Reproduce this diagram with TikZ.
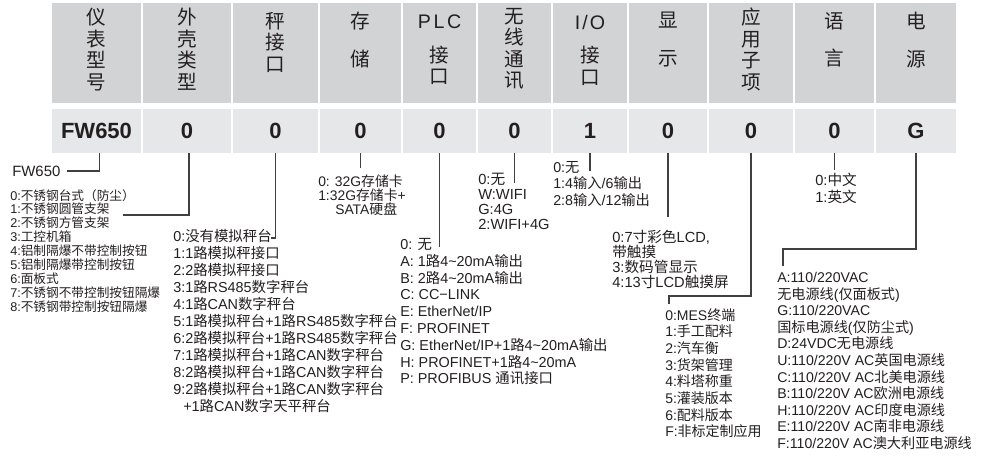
\documentclass[tikz,border=0pt]{standalone}
\usepackage{fontspec}
\setmainfont{Liberation Sans}
\newfontfamily\cjkfont{Noto Sans CJK SC}
\newfontfamily\latfont{Liberation Sans}
% switch to the CJK font for Chinese characters
\XeTeXinterchartokenstate=1
\newXeTeXintercharclass\cjkclass
\newcount\charidx
\charidx="2E80 \loop\ifnum\charidx<"A000 \XeTeXcharclass\charidx=\cjkclass \advance\charidx by 1 \repeat
\charidx="FF00 \loop\ifnum\charidx<"FFF0 \XeTeXcharclass\charidx=\cjkclass \advance\charidx by 1 \repeat
\XeTeXinterchartoks 0 \cjkclass = {\cjkfont}
\XeTeXinterchartoks 4095 \cjkclass = {\cjkfont}
\XeTeXinterchartoks \cjkclass 0 = {\latfont}
\XeTeXinterchartoks \cjkclass 4095 = {\latfont}
\usepackage{tikz}
\usetikzlibrary{positioning}
\definecolor{hdrgray}{HTML}{D1D3D4}
\definecolor{valgray}{HTML}{E6E7E8}
\definecolor{txtdark}{HTML}{231F20}
\definecolor{linegray}{HTML}{404040}
\tikzset{
  hcell/.style = {fill=hdrgray, inner sep=0pt, minimum height=75pt},
  vcell/.style = {fill=valgray, inner sep=0pt, minimum height=33pt, text=txtdark, font=\fontsize{16.5}{18}\selectfont\bfseries},
  htxt/.style = {anchor=north, align=center, inner sep=0pt, text=txtdark, font=\fontsize{14.7}{16.1}\selectfont},
  blk/.style = {anchor=north west, align=left, inner sep=0pt, text=txtdark},
  conn/.style = {draw=linegray, line width=1.3pt}
}

\begin{document}
\begin{tikzpicture}[x=0.75pt, y=-0.75pt]
\useasboundingbox (0,0) rectangle (995,464);
% code table
\foreach \n/\l/\r/\v in {1/52/141/FW650, 2/143/231/0, 3/233/318/0, 4/320/401/0, 5/403/476/0,
  6/478/551/0, 7/553/627/1, 8/629/707/0, 9/709/793/0, 10/795/874/0, 11/876/956/G} {
  \pgfmathsetmacro\w{(\r-\l)*0.75}
  \node[hcell, minimum width=\w pt] (h\n) at ({(\l+\r)/2},53) {};
  \node[vcell, minimum width=\w pt] (v\n) at ({(\l+\r)/2},131) {\v};
}
\node[htxt] (ht1) at ([yshift=-4pt]h1.north) {仪\\表\\型\\号};
\node[htxt] (ht2) at ([yshift=-4pt]h2.north) {外\\壳\\类\\型};
\node[htxt] (ht3) at ([yshift=-7pt]h3.north) {秤\\接\\口};
\node[htxt] (ht4) at ([yshift=-7pt]h4.north) {存\\[12pt]储};
\node[htxt] (ht5) at ([yshift=-9pt]h5.north) {P\kern2pt L\kern2pt C\\[9pt]接\\口};
\node[htxt] (ht6) at ([yshift=-4pt]h6.north) {无\\线\\通\\讯};
\node[htxt] (ht7) at ([yshift=-9pt]h7.north) {I\kern1.5pt/\kern1.5pt O\\[9pt]接\\口};
\node[htxt] (ht8) at ([yshift=-7pt]h8.north) {显\\[12pt]示};
\node[htxt] (ht9) at ([yshift=-4pt]h9.north) {应\\用\\子\\项};
\node[htxt] (ht10) at ([yshift=-7pt]h10.north) {语\\[12pt]言};
\node[htxt] (ht11) at ([yshift=-7pt]h11.north) {电\\[12pt]源};

% option lists
\node[blk, anchor=west, font=\fontsize{11.2}{13}\selectfont] (fw) at (12,171) {FW650};
\node[blk, font=\fontsize{9.5}{10.4}\selectfont] (shell) at (10,189) {0:不锈钢台式（防尘）\\1:不锈钢圆管支架\\2:不锈钢方管支架\\3:工控机箱\\4:铝制隔爆不带控制按钮\\5:铝制隔爆带控制按钮\\6:面板式\\7:不锈钢不带控制按钮隔爆\\8:不锈钢带控制按钮隔爆};
\node[blk, font=\fontsize{10.8}{12.75}\selectfont] (scale) at (173,229) {0:没有模拟秤台\\1:1路模拟秤接口\\2:2路模拟秤接口\\3:1路RS485数字秤台\\4:1路CAN数字秤台\\5:1路模拟秤台+1路RS485数字秤台\\6:2路模拟秤台+1路RS485数字秤台\\7:1路模拟秤台+1路CAN数字秤台\\8:2路模拟秤台+1路CAN数字秤台\\9:2路模拟秤台+1路CAN数字秤台\\\hspace*{7.5pt}+1路CAN数字天平秤台};
\node[blk, font=\fontsize{10.4}{10.5}\selectfont] (store) at (318,175) {0: 32G存储卡\\1:32G存储卡+\\\hspace*{12.75pt}SATA硬盘};
\node[blk, font=\fontsize{10.8}{12.6}\selectfont] (plc) at (400,238) {0: 无\\A: 1路4\textasciitilde20mA输出\\B: 2路4\textasciitilde20mA输出\\C: CC−LINK\\E: EtherNet/IP\\F: PROFINET\\G: EtherNet/IP+1路4\textasciitilde20mA输出\\H: PROFINET+1路4\textasciitilde20mA\\P: PROFIBUS 通讯接口};
\node[blk, font=\fontsize{11}{11.25}\selectfont] (wifi) at (478,173) {0:无\\W:WIFI\\G:4G\\2:WIFI+4G};
\node[blk, font=\fontsize{10.7}{12.4}\selectfont] (io) at (553,161) {0:无\\1:4输入/6输出\\2:8输入/12输出};
\node[blk, font=\fontsize{11}{11.25}\selectfont] (disp) at (612,230) {0:7寸彩色LCD,\\带触摸\\3:数码管显示\\4:13寸LCD触摸屏};
\node[blk, font=\fontsize{10.5}{12.5}\selectfont] (app) at (665,308) {0:MES终端\\1:手工配料\\2:汽车衡\\3:货架管理\\4:料塔称重\\5:灌装版本\\6:配料版本\\F:非标定制应用};
\node[blk, font=\fontsize{11}{12.75}\selectfont] (lang) at (815,173) {0:中文\\1:英文};
\node[blk, font=\fontsize{10.6}{12.45}\selectfont] (power) at (777,272) {A:110/220VAC\\无电源线(仅面板式)\\G:110/220VAC\\国标电源线(仅防尘式)\\D:24VDC无电源线\\U:110/220V AC英国电源线\\C:110/220V AC北美电源线\\B:110/220V AC欧洲电源线\\H:110/220V AC印度电源线\\E:110/220V AC南非电源线\\F:110/220V AC澳大利亚电源线};

% leaders
\coordinate (e2) at (123,215);
\coordinate (e3) at (271,238);
\coordinate (e4) at (360.5,168);
\coordinate (e5) at (439.5,247);
\coordinate (e6) at (514.5,183);
\coordinate (e7) at (590,171);
\coordinate (e8) at (668,217);
\coordinate (k9) at (669,296);
\coordinate (e9) at (669,304);
\coordinate (e10) at (834.5,170);
\coordinate (k11) at (783,249);
\coordinate (e11) at (783,266);
\draw[conn] ([xshift=2.25pt]v1.south) |- ([shift={(6,0)}]fw.east);
\draw[conn] ([xshift=1.5pt]v2.south) |- (e2);
\draw[conn] (v3.south) |- (e3);
\draw[conn] (v4.south) -- (e4);
\draw[conn] (v5.south) -- (e5);
\draw[conn] (v6.south) -- (e6);
\draw[conn] (v7.south) -- (e7);
\draw[conn] (v8.south) -- (e8);
\draw[conn] (v9.south) |- (k9) -- (e9);
\draw[conn] (v10.south) -- (e10);
\draw[conn] (v11.south) |- (k11) -- (e11);
\end{tikzpicture}
\end{document}
